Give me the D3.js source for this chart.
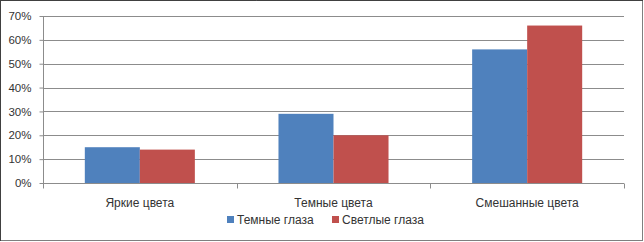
<!DOCTYPE html>
<html><head><meta charset="utf-8">
<script src="https://cdn.jsdelivr.net/npm/d3@7"></script>
<style>body{margin:0;background:#fff}svg{display:block}</style>
</head><body>
<svg id="c" width="644" height="242"></svg>
<script>
const categories = ["Яркие цвета", "Темные цвета", "Смешанные цвета"];
const seriesNames = ["Темные глаза", "Светлые глаза"];
const darkEyes = [0.15, 0.29, 0.56];
const lightEyes = [0.14, 0.20, 0.66];
const yTicks = [0, 0.1, 0.2, 0.3, 0.4, 0.5, 0.6, 0.7];
const colors = ["#4F81BD", "#C0504D"];

(function(){
const svg = d3.select("#c");
const W = 644, H = 242;
const font = "'Liberation Sans', Arial, sans-serif";

// frame
svg.append("rect").attr("x",0.5).attr("y",0.5).attr("width",W-2).attr("height",H-2)
  .attr("fill","#fff").attr("stroke","#7f7f7f");
svg.append("line").attr("x1",0.5).attr("x2",0.5).attr("y1",0).attr("y2",H-1).attr("stroke","#404040");
svg.append("line").attr("x1",0).attr("x2",W-1).attr("y1",0.5).attr("y2",0.5).attr("stroke","#404040");

const pl = 43, pr = 624, pt = 16, pb = 183;
const x = d3.scaleBand().domain(categories).range([pl, pr]).paddingInner(0).paddingOuter(0);
const y = d3.scaleLinear().domain([0, 0.7]).range([pb, pt]);
const xs = d3.scaleBand().domain(seriesNames).range([0, x.bandwidth()]).paddingInner(0).paddingOuter(0.76);

// gridlines
svg.append("g").selectAll("line").data(yTicks.filter(d=>d>0)).join("line")
  .attr("x1", pl).attr("x2", pr)
  .attr("y1", d=>Math.round(y(d))+0.5).attr("y2", d=>Math.round(y(d))+0.5)
  .attr("stroke", "#8c8c8c").attr("stroke-width",1);

// bars
const data = categories.map((c,i)=>({c, vals:[darkEyes[i], lightEyes[i]]}));
const g = svg.append("g").selectAll("g").data(data).join("g")
  .attr("transform", d=>`translate(${x(d.c)},0)`);
g.selectAll("rect").data(d=>d.vals.map((v,j)=>({v, s:seriesNames[j], j}))).join("rect")
  .attr("x", d=>xs(d.s)).attr("width", xs.bandwidth())
  .attr("y", d=>y(d.v)).attr("height", d=>pb - y(d.v))
  .attr("fill", d=>colors[d.j]);

// y axis
const yAxis = svg.append("g").attr("transform", `translate(${pl+0.5},0)`)
  .call(d3.axisLeft(y).tickValues(yTicks).tickFormat(d3.format(".0%")).tickSize(4).tickPadding(8));
yAxis.select(".domain").attr("stroke","#8c8c8c").attr("d", `M0,${pt}V${pb}`);
yAxis.selectAll(".tick line").attr("stroke","#8c8c8c");
yAxis.selectAll("text").attr("font-family", font).attr("font-size", 11.5).attr("fill","#333");

// x axis
const xa = svg.append("g").attr("transform", `translate(0,${pb+0.5})`);
xa.append("line").attr("x1", pl).attr("x2", pr).attr("stroke","#8c8c8c");
xa.selectAll(".tk").data([pl, ...categories.map(c=>x(c)+x.bandwidth())]).join("line")
  .attr("class","tk")
  .attr("x1", d=>Math.round(d)+0.5).attr("x2", d=>Math.round(d)+0.5).attr("y1",0).attr("y2",5)
  .attr("stroke","#8c8c8c");
xa.selectAll(".cl").data(categories).join("text")
  .attr("class","cl")
  .attr("x", d=>x(d)+x.bandwidth()/2).attr("y", 23)
  .attr("text-anchor","middle").attr("font-family", font).attr("font-size", 12).attr("fill","#333")
  .text(d=>d);

// legend
const leg = svg.append("g").attr("transform","translate(0,220)");
const legX = [227, 332];
seriesNames.forEach((s,i)=>{
  leg.append("rect").attr("x", legX[i]).attr("y", -4).attr("width",7).attr("height",7).attr("fill", colors[i]);
  leg.append("text").attr("x", legX[i]+10).attr("y", 4).attr("font-family", font).attr("font-size", 12)
    .attr("fill","#333").text(s);
});
})();
</script>
</body></html>
